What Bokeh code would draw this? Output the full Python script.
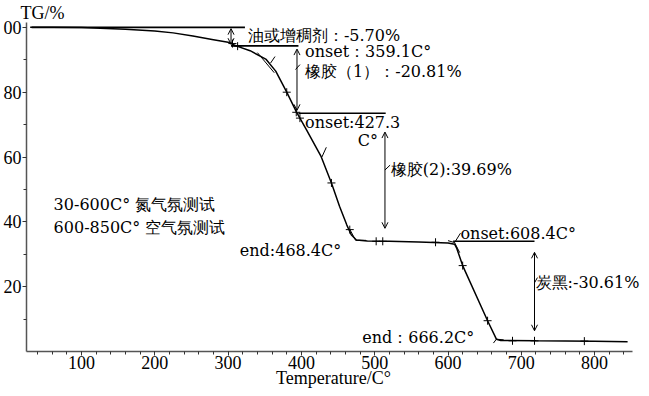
from bokeh.plotting import figure
from bokeh.models import Range1d, FixedTicker, Label, Arrow, OpenHead
from bokeh.embed import file_html
from bokeh.resources import INLINE

# ---- data: TG curve (temperature °C, mass %) ----
temp = [30, 60, 100, 160, 200, 225, 252, 280, 300, 311, 330, 352, 365, 380, 393,
        407, 427, 441, 452, 462, 468, 475, 490, 520, 560, 600, 609, 612, 620, 654,
        666, 672, 720, 800, 845]
tg = [100.0, 100.0, 99.95, 99.4, 98.9, 98.3, 97.3, 96.2, 95.4, 94.3, 92.8, 90.1, 86.5,
      80.0, 74.0, 68.4, 60.1, 52.0, 44.8, 39.0, 36.0, 34.4, 34.1, 34.0, 33.8, 33.5,
      33.1, 31.8, 26.5, 9.5, 3.8, 3.4, 3.3, 3.2, 3.0]

# cross marks on curve
mark_t = [306, 313, 380, 393, 398, 441, 466, 502, 511, 583, 620, 654, 688, 718, 786]
mark_v = [95.0, 94.2, 80.0, 73.8, 72.0, 52.0, 37.6, 34.0, 34.0, 33.7, 26.5, 9.5, 3.3, 3.3, 3.2]

# reference levels (step baselines)
lvl_x0 = [32, 304, 396, 607]
lvl_x1 = [323, 396, 515, 718]
lvl_v = [100.0, 94.3, 73.5, 34.0]

# double arrows (mass loss spans)
arr_x = [304, 394, 514, 718]
arr_v0 = [99.6, 93.3, 67.7, 30.6]
arr_v1 = [94.8, 74.4, 38.0, 6.4]

# tangent / leader segments
seg_x0 = [340, 466, 474, 600, 609, 609, 662, 666, 392, 514, 718, 428, 358]
seg_y0 = [92.2, 37.7, 34.3, 34.2, 33.6, 33.6, 2.6, 3.8, 87.0, 56.0, 21.2, 60.0, 89.0]
seg_x1 = [363, 474, 488, 609, 616, 617, 666, 676, 398, 521, 722, 434, 364]
seg_y1 = [86.0, 34.3, 34.3, 33.6, 30.5, 36.5, 3.8, 3.6, 88.5, 57.5, 22.8, 63.0, 91.0]

# annotation texts
ann_text = ["油或增稠剂：-5.70%", "onset：359.1C°", "橡胶（1）：-20.81%", "onset:427.3", "C°",
            "橡胶(2):39.69%", "30-600C°  氮气氛测试", "600-850C°  空气氛测试", "end:468.4C°",
            "onset:608.4C°", "炭黑:-30.61%", "end：666.2C°"]
ann_x = [327, 405, 405, 405, 477, 522, 62, 62, 316, 617, 719.5, 483]
ann_y = [97.5, 92.6, 86.4, 70.5, 65.0, 56.0, 45.4, 38.4, 31.2, 36.4, 21.2, 4.2]

x_ticks = [100, 200, 300, 400, 500, 600, 700, 800]
x_minor = list(range(40, 860, 20))
y_ticks = [20, 40, 60, 80, 100]
y_minor = [10, 30, 50, 70, 90]
y_tick_labels = {20: "20", 40: "40", 60: "60", 80: "80", 100: "00"}

FONT_TICK = "Liberation Serif"
FONT_ANN = "DejaVu Serif"

p = figure(width=641, height=390, x_range=Range1d(25, 862.6), y_range=Range1d(0, 101.5),
           output_backend="svg", toolbar_location=None,
           min_border_left=25, min_border_right=1, min_border_top=15, min_border_bottom=0)
p.outline_line_color = None
p.xgrid.visible = False
p.ygrid.visible = False
p.background_fill_color = "white"

p.title.text = "TG/%"
p.title.align = "left"
p.title.offset = -6
p.title.standoff = 0
p.title.text_font = FONT_TICK
p.title.text_font_size = "18px"
p.title.text_font_style = "normal"
p.title.text_color = "black"

for ax in (p.xaxis[0], p.yaxis[0]):
    ax.axis_line_color = "#555555"
    ax.axis_line_width = 1.5
    ax.major_tick_line_color = "#333333"
    ax.minor_tick_line_color = "#333333"
    ax.major_tick_in = 0
    ax.minor_tick_in = 0
    ax.major_tick_out = 4
    ax.minor_tick_out = 3
    ax.major_label_text_font = FONT_TICK
    ax.major_label_text_font_size = "18px"
    ax.major_label_text_color = "black"
    ax.major_label_standoff = 1

p.xaxis.bounds = (25, 852)
p.xaxis.major_label_standoff = 0
p.xaxis.axis_label = "Temperature/C°"
p.xaxis.axis_label_text_font = FONT_TICK
p.xaxis.axis_label_text_font_size = "18px"
p.xaxis.axis_label_text_font_style = "normal"
p.xaxis.axis_label_text_color = "black"
p.xaxis.axis_label_standoff = -4

p.xaxis.ticker = FixedTicker(ticks=x_ticks, minor_ticks=x_minor)
p.yaxis.ticker = FixedTicker(ticks=y_ticks, minor_ticks=y_minor)
p.yaxis.major_label_overrides = y_tick_labels

# reference baselines
p.segment(x0=lvl_x0, y0=lvl_v, x1=lvl_x1, y1=lvl_v, line_color="black", line_width=1.6)
# curve
p.line(temp, tg, line_color="black", line_width=1.5)
# tangent/leader segments
p.segment(x0=seg_x0, y0=seg_y0, x1=seg_x1, y1=seg_y1, line_color="black", line_width=1)
# cross marks
p.scatter(mark_t, mark_v, marker="cross", size=8, line_color="black", line_width=1)

for xa, a0, a1 in zip(arr_x, arr_v0, arr_v1):
    p.add_layout(Arrow(x_start=xa, y_start=a0, x_end=xa, y_end=a1, line_width=1,
                       line_color="black",
                       start=OpenHead(size=6, line_width=1, line_color="black"),
                       end=OpenHead(size=6, line_width=1, line_color="black")))

for t, xx, yy in zip(ann_text, ann_x, ann_y):
    p.add_layout(Label(x=xx, y=yy, text=t, text_font=FONT_ANN, text_font_size="16px",
                       text_baseline="middle", text_align="left", text_color="black"))

open("out.html", "w").write(file_html(p, INLINE))
